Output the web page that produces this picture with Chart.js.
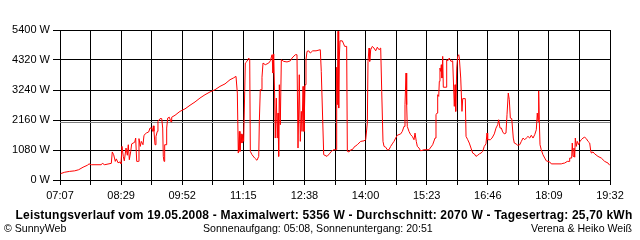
<!DOCTYPE html>
<html>
<head>
<meta charset="utf-8">
<script src="https://cdn.jsdelivr.net/npm/chart.js@4.4.1/dist/chart.umd.min.js"></script>
<style>
  html, body { margin: 0; padding: 0; background: #fff; }
  #wrap { position: relative; width: 640px; height: 240px; overflow: hidden;
          font-family: "Liberation Sans", Arial, sans-serif; color: #000; }
  #chart { position: absolute; left: 0; top: 0; }
  .txt { position: absolute; font-size: 10.6px; line-height: 13px; white-space: nowrap; }
  #title { left: 4px; width: 640px; top: 209px; text-align: center; font-weight: bold;
           font-size: 12px; letter-spacing: 0.2px; }
  #copy { left: 4px; top: 222px; }
  #sun { left: 203px; top: 222px; }
  #auth { right: 8px; top: 222px; }
</style>
</head>
<body>
<div id="wrap">
  <canvas id="chart" width="640" height="240"></canvas>
  <div id="title" class="txt">Leistungsverlauf vom 19.05.2008 - Maximalwert: 5356 W - Durchschnitt: 2070 W - Tagesertrag: 25,70 kWh</div>
  <div id="copy" class="txt">© SunnyWeb</div>
  <div id="sun" class="txt">Sonnenaufgang: 05:08, Sonnenuntergang: 20:51</div>
  <div id="auth" class="txt">Verena &amp; Heiko Weiß</div>
</div>
<script>
// ----- Data (minutes since midnight / watts) -----
const times = [
  427.9,433.4,440.1,446.9,452.3,458.2,464.0,466.3,469.4,482.9,
  484.3,487.5,496.5,497.8,499.7,501.9,503.3,505.6,508.3,509.6,
  511.0,512.7,514.1,516.4,518.2,519.5,520.9,522.8,524.1,528.2,
  529.5,530.9,533.1,534.0,535.8,537.1,539.4,540.8,543.9,547.1,
  548.9,551.2,552.6,553.4,554.3,555.7,557.0,558.8,559.7,562.5,
  564.8,566.1,566.9,567.9,568.8,570.6,571.5,572.9,575.1,577.4,
  578.3,582.8,589.5,596.3,603.1,609.9,616.6,623.4,630.2,637.0,
  643.7,650.5,657.3,661.7,665.4,667.2,668.5,669.9,670.8,672.2,
  673.5,674.5,675.8,677.2,678.0,680.3,682.6,684.0,684.8,687.1,
  690.7,693.8,696.2,697.0,698.3,699.7,700.6,702.0,705.1,709.7,
  711.9,714.2,715.5,716.5,717.8,718.6,720.0,721.3,722.3,723.2,
  724.1,725.4,726.8,730.0,734.5,739.0,741.3,745.7,748.0,749.4,
  751.1,752.5,753.9,754.8,756.2,757.5,758.9,760.2,761.6,763.9,
  766.0,769.3,773.8,779.6,780.9,784.2,788.7,791.8,794.5,797.7,
  800.9,801.8,802.6,803.6,804.5,805.3,806.3,809.4,810.7,812.6,
  815.3,816.2,818.5,820.8,822.9,825.2,829.7,834.3,838.8,841.1,
  843.3,844.2,845.6,846.5,847.9,850.0,852.3,854.6,856.8,859.1,
  861.4,862.8,864.5,865.9,868.2,870.3,872.6,874.9,877.1,879.4,
  881.7,883.9,888.5,890.7,893.0,894.3,895.7,896.6,897.4,899.7,
  902.0,904.2,906.5,907.9,909.6,911.0,913.3,915.6,920.1,926.8,
  931.8,935.0,936.3,937.7,938.6,940.0,940.8,941.7,942.7,943.5,
  944.4,945.4,946.2,949.9,950.8,952.2,954.3,956.6,958.9,961.1,
  962.1,963.0,964.4,965.7,967.1,967.9,969.8,971.5,972.5,976.0,
  977.0,979.3,981.4,983.7,986.0,988.2,990.5,992.8,995.0,997.3,
  999.6,1001.7,1004.0,1005.4,1006.3,1009.9,1012.2,1015.3,1017.6,1019.9,
  1021.2,1023.0,1024.8,1026.7,1028.8,1031.1,1032.5,1034.2,1035.6,1037.0,
  1038.9,1041.0,1042.4,1044.7,1047.0,1049.7,1051.9,1054.2,1056.5,1058.6,
  1060.9,1063.2,1065.4,1067.7,1070.0,1072.2,1073.5,1074.5,1075.4,1076.2,
  1077.2,1078.9,1081.2,1083.6,1085.7,1090.3,1092.5,1106.0,1108.3,1110.6,
  1114.2,1116.5,1117.4,1120.1,1120.9,1121.9,1123.2,1124.2,1125.0,1126.4,
  1127.7,1129.6,1131.4,1133.1,1135.4,1137.7,1139.9,1142.2,1144.5,1145.9,
  1146.7,1149.0,1151.3,1155.7,1160.2,1164.8,1169.3,1171.6
];
const watts = [
  230,280,310,330,370,460,530,580,550,550,
  600,550,600,1010,910,670,760,620,650,590,
  1210,850,690,1150,890,1270,730,1030,1300,1360,
  1510,670,670,1490,1210,1390,1270,1610,1690,1730,
  1870,1870,1750,1950,1750,1270,1570,1750,2110,2210,
  2210,1870,850,670,1270,1270,1870,2230,2260,2090,
  2260,2330,2470,2560,2690,2810,2950,3070,3170,3250,
  3370,3460,3610,3670,3730,3130,970,1750,1030,1660,
  1330,1630,1390,3190,4210,4270,4390,4330,1030,910,
  790,710,850,2110,3250,3250,3700,4210,4150,4210,
  4290,4510,3850,4540,2950,1510,2950,1510,2410,850,
  3430,1990,4330,4270,4250,4290,4390,4510,4510,1150,
  3790,1390,2470,1750,3370,1750,3430,4330,4630,4650,
  4570,4650,4650,4690,3910,910,850,940,1030,1090,
  1090,4060,2710,5356,2590,4390,5010,5010,4930,4810,
  4810,1030,1010,1090,1090,1180,1270,1390,1410,1450,
  2050,4270,4750,4270,4690,4810,4750,4650,4780,4690,
  4750,3190,1390,1210,1180,1090,1090,1210,1300,1390,
  1510,1610,1660,1750,1930,2710,3850,2710,1930,1750,
  1630,1570,1450,1690,1390,1210,1150,1050,1090,1090,
  1270,1510,2350,2410,3070,3010,3550,4030,3910,4150,
  3670,4450,3340,3340,4330,4290,4390,4270,4290,2650,
  3430,2470,4030,4450,4510,4390,3670,2470,2930,2930,
  1570,1450,1330,1150,970,940,850,890,940,970,
  1030,1210,1300,1690,1450,1450,1510,1660,1870,1990,
  2170,1870,1870,1730,1660,1690,2350,3130,2890,2230,
  2210,1510,1330,1300,1250,1270,1390,1510,1450,1510,
  1570,1510,1610,1510,1630,1810,2410,2110,3210,2170,
  1270,1090,910,790,690,650,580,580,600,610,
  670,670,790,790,1330,850,1150,820,1510,1210,
  1390,1270,1390,1450,1510,1540,1490,1390,1330,1050,
  970,1010,940,850,790,670,610,530
];
const avgWatts = 2070;

// axis: 07:07 .. 19:32, labels on every second grid line
const tStart = 427, tEnd = 1172, gridSteps = 18;
const timeLabels = ['07:07','08:29','09:52','11:15','12:38','14:00','15:23','16:46','18:09','19:32'];
const yMax = 5400, yStep = 1080;

const FONT = { family: '"Liberation Sans", Arial, sans-serif', size: 11 };

const power = times.map((t, i) => ({ x: t, y: watts[i] }));
const avgLine = [{ x: tStart, y: avgWatts }, { x: tEnd, y: avgWatts }];

new Chart(document.getElementById('chart'), {
  type: 'line',
  data: {
    datasets: [
      { data: power, borderColor: '#ff0000', borderWidth: 1, pointRadius: 0, tension: 0, order: 0 },
      { data: avgLine, borderColor: '#808080', borderWidth: 1, pointRadius: 0, order: 1 }
    ]
  },
  options: {
    responsive: false,
    animation: false,
    devicePixelRatio: 1,
    layout: { padding: { top: 30, right: 30, left: 0, bottom: 0 } },
    plugins: { legend: { display: false }, tooltip: { enabled: false } },
    scales: {
      x: {
        type: 'linear',
        min: tStart,
        max: tEnd,
        afterBuildTicks: (s) => {
          s.ticks = [];
          for (let i = 0; i <= gridSteps; i++) s.ticks.push({ value: tStart + i * (tEnd - tStart) / gridSteps });
        },
        afterFit: (s) => { s.height = 60; },
        grid: { color: '#000', lineWidth: 1, tickLength: 5 },
        border: { color: '#000' },
        ticks: {
          color: '#000', font: FONT, padding: 4, maxRotation: 0, autoSkip: false,
          callback: (v, i) => (i % 2 === 0 ? timeLabels[i / 2] : '')
        }
      },
      y: {
        min: 0,
        max: yMax,
        afterFit: (s) => { s.width = 60; },
        grid: { color: '#000', lineWidth: 1, tickLength: 7 },
        border: { color: '#000' },
        ticks: {
          stepSize: yStep, color: '#000', font: FONT, padding: 3,
          callback: (v) => v + ' W'
        }
      }
    }
  }
});
</script>
</body>
</html>
